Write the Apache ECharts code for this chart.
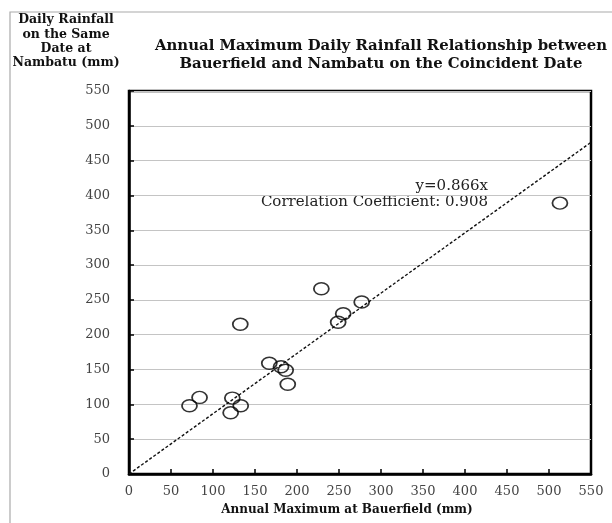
<!DOCTYPE html>
<html>
<head>
<meta charset="utf-8">
<script src="https://cdn.jsdelivr.net/npm/echarts@6/dist/echarts.min.js"></script>
<style>
  html, body { margin: 0; padding: 0; background: #fff; }
  #chart { width: 612px; height: 523px; }
</style>
</head>
<body>
<div id="chart"></div>
<script>
// Annual maximum daily rainfall at Bauerfield (mm)
const bauerfield = [72, 84, 123, 121, 133, 132.5, 167, 181, 186.5, 189, 229, 249, 255, 277, 513];
// Rainfall at Nambatu on the same date (mm)
const nambatu    = [98, 110, 109, 88, 98, 215, 159, 154, 149, 129, 266, 218, 230, 247, 389];
// Regression through origin
const slope = 0.866;
const corr = 0.908;
const axisMax = 550;
const axisStep = 50;

const points = bauerfield.map((x, i) => [x, nambatu[i]]);
const trend = [[0, 0], [axisMax, slope * axisMax]];

const serif = '"DejaVu Serif", "Liberation Serif", serif';

const chart = echarts.init(document.getElementById('chart'));
chart.setOption({
  animation: false,
  backgroundColor: '#fff',
  grid: {
    left: 129, right: 21, top: 91, bottom: 49,
    show: true, borderColor: '#000', borderWidth: 2.5, backgroundColor: 'transparent'
  },
  title: {
    text: 'Annual Maximum Daily Rainfall Relationship between\nBauerfield and Nambatu on the Coincident Date',
    left: 376, top: 32, textAlign: 'center',
    textStyle: { fontFamily: serif, fontSize: 14.9, fontWeight: 'bold', color: '#111', lineHeight: 18 }
  },
  graphic: [
    { type: 'rect', shape: { x: 10, y: 12, width: 640, height: 560 },
      style: { fill: 'none', stroke: '#aaa', lineWidth: 1.2 }, silent: true, z: -1 },
    { type: 'text', x: 66, y: 13,
      style: { text: 'Daily Rainfall\non the Same\nDate at\nNambatu (mm)', align: 'center', textAlign: 'center',
               font: 'bold 12.5px ' + serif, fill: '#111', lineHeight: 14.3 } },
    { type: 'text', right: 124, top: 179,
      style: { text: 'y=' + slope + 'x', textAlign: 'right', font: '15px ' + serif, fill: '#222' } },
    { type: 'text', right: 124, top: 195,
      style: { text: 'Correlation Coefficient: ' + corr, textAlign: 'right', font: '15px ' + serif, fill: '#222' } },
    { type: 'text', x: 347, y: 504,
      style: { text: 'Annual Maximum at Bauerfield (mm)', align: 'center', textAlign: 'center',
               font: 'bold 12px ' + serif, fill: '#111' } }
  ],
  xAxis: {
    type: 'value', min: 0, max: axisMax, interval: axisStep,
    axisLine: { show: true, lineStyle: { color: '#000', width: 2.5 } },
    axisTick: { show: true, inside: true, length: 5, lineStyle: { color: '#000', width: 1.5 } },
    axisLabel: { margin: 11, fontFamily: serif, fontSize: 13, color: '#444' },
    splitLine: { show: false }
  },
  yAxis: {
    type: 'value', min: 0, max: axisMax, interval: axisStep,
    axisLine: { show: true, lineStyle: { color: '#000', width: 2.5 } },
    axisTick: { show: true, inside: true, length: 5, lineStyle: { color: '#000', width: 1.5 } },
    axisLabel: { margin: 19, fontFamily: serif, fontSize: 13, color: '#444' },
    splitLine: { show: true, lineStyle: { color: '#c4c4c4', width: 1 } }
  },
  series: [
    {
      type: 'line', data: trend, showSymbol: false, symbol: 'none',
      lineStyle: { color: '#111', width: 1.4, type: [3, 2] }, z: 2
    },
    {
      type: 'scatter', data: points, symbol: 'circle', symbolSize: [15, 12],
      itemStyle: { color: 'rgba(255,255,255,0)', borderColor: '#000', borderWidth: 1.6 }, z: 3
    }
  ]
});
</script>
</body>
</html>
